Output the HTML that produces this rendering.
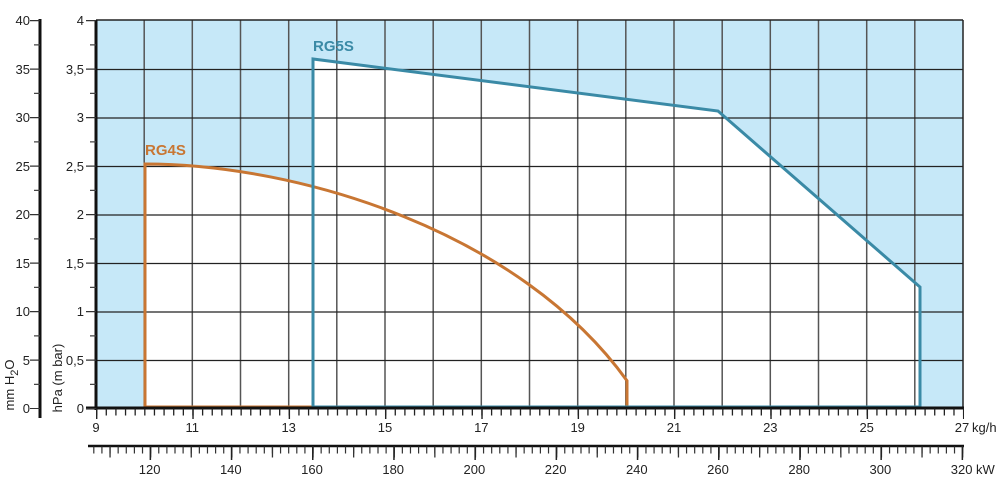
<!DOCTYPE html>
<html><head><meta charset="utf-8"><style>
html,body{margin:0;padding:0;background:#fff}
svg{display:block}
text{font-family:"Liberation Sans",Arial,sans-serif;font-size:13px;fill:#222}
</style></head><body>
<svg width="1007" height="490" viewBox="0 0 1007 490">
<rect x="96" y="20" width="867" height="388" fill="#c6e8f8"/>
<path d="M145,408 L145,164 C300,164 520,232 627,380.7 L627,408 Z" fill="#fff"/>
<polygon points="312,408 312,59 718,111 920,287 920,408" fill="#fff"/>
<g stroke="#555" stroke-width="1.5">
<line x1="144.2" y1="20" x2="144.2" y2="408"/><line x1="192.3" y1="20" x2="192.3" y2="408"/>
<line x1="240.5" y1="20" x2="240.5" y2="408"/><line x1="288.7" y1="20" x2="288.7" y2="408"/>
<line x1="336.8" y1="20" x2="336.8" y2="408"/><line x1="385" y1="20" x2="385" y2="408"/>
<line x1="433.2" y1="20" x2="433.2" y2="408"/><line x1="481.3" y1="20" x2="481.3" y2="408"/>
<line x1="529.5" y1="20" x2="529.5" y2="408"/><line x1="577.7" y1="20" x2="577.7" y2="408"/>
<line x1="625.8" y1="20" x2="625.8" y2="408"/><line x1="674" y1="20" x2="674" y2="408"/>
<line x1="722.2" y1="20" x2="722.2" y2="408"/><line x1="770.3" y1="20" x2="770.3" y2="408"/>
<line x1="818.5" y1="20" x2="818.5" y2="408"/><line x1="866.7" y1="20" x2="866.7" y2="408"/>
<line x1="914.8" y1="20" x2="914.8" y2="408"/>
</g>
<g stroke="#222" stroke-width="1.2">
<line x1="96" y1="69.5" x2="963" y2="69.5"/><line x1="96" y1="118" x2="963" y2="118"/>
<line x1="96" y1="166.5" x2="963" y2="166.5"/><line x1="96" y1="215" x2="963" y2="215"/>
<line x1="96" y1="263.5" x2="963" y2="263.5"/><line x1="96" y1="312" x2="963" y2="312"/>
<line x1="96" y1="360.5" x2="963" y2="360.5"/>
</g>
<line x1="96" y1="20" x2="963" y2="20" stroke="#222" stroke-width="1.5"/>
<line x1="963" y1="20" x2="963" y2="408" stroke="#222" stroke-width="1.5"/>
<line x1="96" y1="20" x2="96" y2="410" stroke="#111" stroke-width="3"/>
<path d="M145,408 L145,164 C300,164 520,232 627,380.7 L627,408" fill="none" stroke="#c87633" stroke-width="3"/>
<line x1="145" y1="407" x2="627" y2="407" stroke="#c87633" stroke-width="3"/>
<polyline points="313,408 313,59 718,111 920,287 920,408" fill="none" stroke="#3a8aa6" stroke-width="3"/>
<line x1="313" y1="407" x2="920" y2="407" stroke="#3a8aa6" stroke-width="3"/>
<text x="145" y="155" style="font-weight:bold;font-size:15px;fill:#c87633">RG4S</text>
<text x="313" y="51" style="font-weight:bold;font-size:15px;fill:#3a8aa6">RG5S</text>
<line x1="86" y1="408" x2="964" y2="408" stroke="#111" stroke-width="3"/>
<line x1="96" y1="412" x2="964" y2="412" stroke="#222" stroke-width="7" stroke-dasharray="1.3 8.333"/>
<line x1="96" y1="414" x2="964" y2="414" stroke="#222" stroke-width="10" stroke-dasharray="1.4 94.93"/>
<g text-anchor="middle">
<text x="96" y="432">9</text><text x="192.3" y="432">11</text><text x="288.7" y="432">13</text>
<text x="385" y="432">15</text><text x="481.3" y="432">17</text><text x="577.7" y="432">19</text>
<text x="674" y="432">21</text><text x="770.3" y="432">23</text><text x="866.7" y="432">25</text>
<text x="962" y="432">27</text>
</g>
<text x="972" y="432">kg/h</text>
<line x1="88" y1="446" x2="964" y2="446" stroke="#111" stroke-width="2.5"/>
<line x1="93.2" y1="450" x2="964" y2="450" stroke="#333" stroke-width="7" stroke-dasharray="1.2 6.92"/>
<line x1="109.4" y1="452" x2="964" y2="452" stroke="#333" stroke-width="11" stroke-dasharray="1.3 39.3"/>
<line x1="149.6" y1="453" x2="964" y2="453" stroke="#222" stroke-width="14" stroke-dasharray="1.5 79.7"/>
<g text-anchor="middle">
<text x="149.6" y="474">120</text><text x="230.8" y="474">140</text><text x="312" y="474">160</text>
<text x="393.2" y="474">180</text><text x="474.4" y="474">200</text><text x="555.6" y="474">220</text>
<text x="636.8" y="474">240</text><text x="718" y="474">260</text><text x="799.2" y="474">280</text>
<text x="880.4" y="474">300</text><text x="961.6" y="474">320</text>
</g>
<text x="976" y="474">kW</text>
<line x1="91" y1="20" x2="91" y2="409" stroke="#333" stroke-width="10" stroke-dasharray="1.2 47.3"/>
<line x1="93" y1="44.25" x2="93" y2="409" stroke="#444" stroke-width="6" stroke-dasharray="1.2 47.3"/>
<g text-anchor="end">
<text x="84" y="25">4</text><text x="84" y="74">3,5</text><text x="84" y="122">3</text>
<text x="84" y="171">2,5</text><text x="84" y="219">2</text><text x="84" y="268">1,5</text>
<text x="84" y="316">1</text><text x="84" y="365">0,5</text><text x="84" y="413">0</text>
</g>
<line x1="40" y1="19" x2="40" y2="418" stroke="#111" stroke-width="3"/>
<line x1="35" y1="20" x2="35" y2="409" stroke="#333" stroke-width="10" stroke-dasharray="1.2 47.3"/>
<line x1="37" y1="44.25" x2="37" y2="409" stroke="#444" stroke-width="6" stroke-dasharray="1.2 47.3"/>
<g text-anchor="end">
<text x="30" y="25">40</text><text x="30" y="74">35</text><text x="30" y="122">30</text>
<text x="30" y="171">25</text><text x="30" y="219">20</text><text x="30" y="268">15</text>
<text x="30" y="316">10</text><text x="30" y="365">5</text><text x="30" y="413">0</text>
</g>
<text transform="translate(14,385) rotate(-90)" text-anchor="middle">mm H<tspan dy="4" font-size="11">2</tspan><tspan dy="-4">O</tspan></text>
<text transform="translate(62,378) rotate(-90)" text-anchor="middle">hPa (m bar)</text>
</svg>
</body></html>
